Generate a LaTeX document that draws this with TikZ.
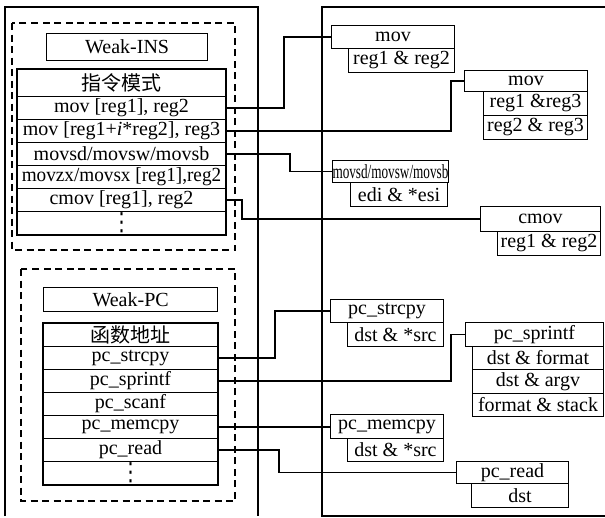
\documentclass[tikz,border=0pt]{standalone}
\usepackage{fontspec}
\usepackage{graphicx}
\setmainfont{Liberation Serif}
\newfontfamily\cjk{Noto Sans CJK SC}
\newfontfamily\symfont{DejaVu Sans}
\newcommand{\figfont}{\fontsize{20}{22}\selectfont}
\newcommand{\morerows}{\scalebox{1}[1.25]{\symfont ⋮}}

\begin{document}
\begin{tikzpicture}[x=1pt, y=-1pt,
    cell/.style={draw, line width=1pt, inner sep=0pt, anchor=north west, font=\figfont},
    frame/.style={line width=1.3pt},
    dbox/.style={line width=1.1pt, dash pattern=on 7pt off 4.5pt},
    conn/.style={line width=1.1pt}]
    \useasboundingbox (0,0) rectangle (605,517);

    \draw[frame] (5,516) -- (5,7) -- (258,7) -- (258,516);
    \draw[frame] (605,7) -- (322,7) -- (322,516) -- (605,516);

    \draw[dbox] (12,23) rectangle (235,250);
    \draw[dbox] (21,269) rectangle (235,501);

    \node[cell, frame, minimum width=161pt, minimum height=27pt] (insT) at (46,33) {Weak-INS};
    \node[cell, minimum width=208pt, minimum height=27pt] (insH) at (17,69) {\cjk 指令模式};
    \foreach \t [count=\i] in {{mov [reg1], reg2}, {mov [reg1+\textit{i}*reg2], reg3},
            {movsd/movsw/movsb}, {\scalebox{0.96}[1]{movzx/movsx [reg1],reg2}},
            {cmov [reg1], reg2}, {\morerows}} {
        \node[cell, minimum width=208pt, minimum height=23pt] (ins\i) at (17,{96+23*(\i-1)}) {\t};
    }
    \draw[frame] (insH.north west) rectangle (ins6.south east);

    \node[cell, frame, minimum width=174pt, minimum height=24pt] (pcT) at (43,287) {Weak-PC};
    \node[cell, minimum width=174pt, minimum height=23pt] (pcH) at (43,323) {\cjk 函数地址};
    \foreach \t [count=\i] in {pc\_strcpy, pc\_sprintf, pc\_scanf, pc\_memcpy, pc\_read, {\morerows}} {
        \node[cell, minimum width=174pt, minimum height=23pt] (pc\i) at (43,{346+23*(\i-1)}) {\t};
    }
    \draw[frame] (pcH.north west) rectangle (pc6.south east);

    \begin{scope}[every node/.append style={frame}]
        \node[cell, minimum width=123pt, minimum height=23pt] (m1) at (331,25) {mov};
        \node[cell, minimum width=106pt, minimum height=24pt] (m1a) at (348,48) {reg1 \& reg2};

        \node[cell, minimum width=123pt, minimum height=21pt] (m2) at (464,70) {mov};
        \node[cell, minimum width=104pt, minimum height=24pt] (m2a) at (483,91) {reg1 \&reg3};
        \node[cell, minimum width=104pt, minimum height=24pt] (m2b) at (483,115) {reg2 \& reg3};

        \node[cell, minimum width=115pt, minimum height=22pt] (m3) at (332,160) {\scalebox{0.66}[1]{movsd/movsw/movsb}};
        \node[cell, minimum width=97pt, minimum height=24pt] (m3a) at (350,182) {edi \& *esi};

        \node[cell, minimum width=120pt, minimum height=25pt] (m4) at (480,206) {cmov};
        \node[cell, minimum width=103pt, minimum height=24pt] (m4a) at (497,231) {reg1 \& reg2};

        \node[cell, minimum width=113pt, minimum height=23pt] (p1) at (330,299) {pc\_strcpy};
        \node[cell, minimum width=96pt, minimum height=24pt] (p1a) at (347,322) {dst \& *src};

        \node[cell, minimum width=138pt, minimum height=24pt] (p2) at (465,322) {pc\_sprintf};
        \node[cell, minimum width=131pt, minimum height=23pt] (p2a) at (472,346) {dst \& format};
        \node[cell, minimum width=131pt, minimum height=24pt] (p2b) at (472,369) {dst \& argv};
        \node[cell, minimum width=131pt, minimum height=23pt] (p2c) at (472,393) {format \& stack};

        \node[cell, minimum width=113pt, minimum height=24pt] (p3) at (330,414) {pc\_memcpy};
        \node[cell, minimum width=96pt, minimum height=23pt] (p3a) at (347,438) {dst \& *src};

        \node[cell, minimum width=112pt, minimum height=22pt] (p4) at (456,461) {pc\_read};
        \node[cell, minimum width=97pt, minimum height=24pt] (p4a) at (471,483) {dst};
    \end{scope}

    \draw[conn] (ins1.east) -- ++(58,0) |- (m1.west);
    \draw[conn] (ins2.east) -- ++(225,0) |- (m2.west);
    \draw[conn] (ins3.east) -- ++(64,0) |- (m3.west);
    \draw[conn] (ins5.east) -- ++(16,0) |- (m4.west);

    \draw[conn] (pc1.east) -- ++(57,0) |- (p1.west);
    \draw[conn] (pc2.east) -- ++(233,0) |- (p2.west);
    \draw[conn] (pc4.east) -- (pc4.east -| p3.west);
    \draw[conn] (pc5.east) -- ++(61,0) |- (p4.west);
\end{tikzpicture}
\end{document}
